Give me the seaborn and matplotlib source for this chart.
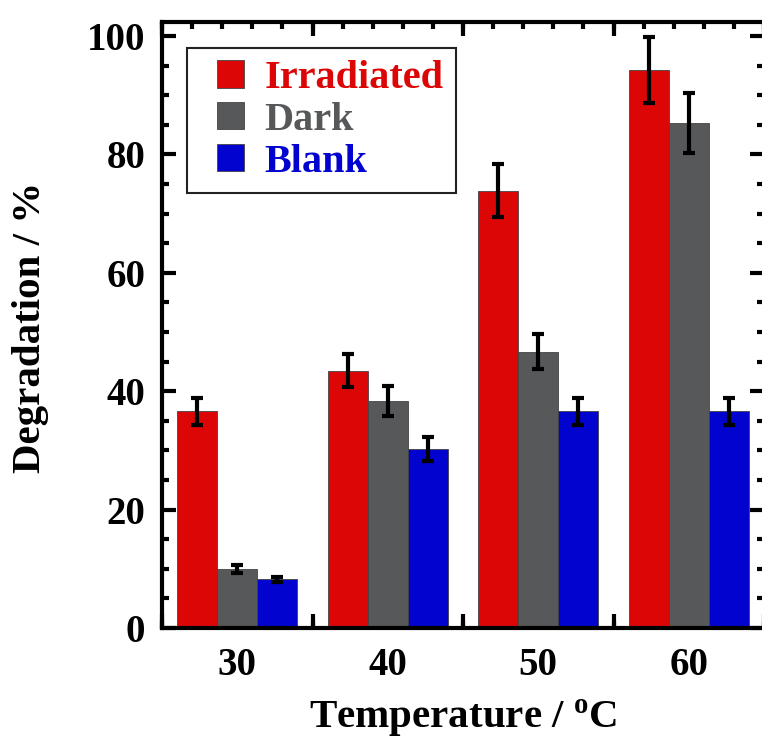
import matplotlib
matplotlib.use("Agg")
import matplotlib.pyplot as plt
import seaborn as sns
import pandas as pd
from matplotlib.patches import Patch, Rectangle
from matplotlib.legend_handler import HandlerPatch
from matplotlib.ticker import MultipleLocator, NullFormatter

temperatures = [30, 40, 50, 60]
series = ["Irradiated", "Dark", "Blank"]
irradiated = [36.6, 43.5, 73.9, 94.3]
irradiated_err = [2.3, 2.8, 4.5, 5.6]
dark = [10.0, 38.4, 46.7, 85.3]
dark_err = [0.7, 2.5, 2.9, 5.1]
blank = [8.2, 30.2, 36.6, 36.6]
blank_err = [0.5, 2.0, 2.3, 2.3]
colors = ["#DD0606", "#57585A", "#0303CF"]

values = {"Irradiated": irradiated, "Dark": dark, "Blank": blank}
errors = {"Irradiated": irradiated_err, "Dark": dark_err, "Blank": blank_err}
rows = []
for s in series:
    for t, v in zip(temperatures, values[s]):
        rows.append({"Temperature": t, "Series": s, "Degradation": v})
df = pd.DataFrame(rows)

sns.set_theme(style="ticks")
plt.rcParams["font.family"] = ["Liberation Serif", "DejaVu Serif"]
plt.rcParams["font.weight"] = "bold"
plt.rcParams["mathtext.fontset"] = "custom"
plt.rcParams["mathtext.rm"] = "Liberation Serif:bold"
plt.rcParams["mathtext.bf"] = "Liberation Serif:bold"
for k in ["text.color", "axes.labelcolor", "xtick.color", "ytick.color",
          "axes.edgecolor"]:
    plt.rcParams[k] = "black"

fig = plt.figure(figsize=(7.62, 7.38), dpi=100)
ax = fig.add_axes([162 / 762, 1 - 628 / 738, (764 - 162) / 762, (628 - 22.5) / 738])

sns.barplot(data=df, x="Temperature", y="Degradation", hue="Series",
            hue_order=series, palette=colors, native_scale=True,
            errorbar=None, width=0.8, saturation=1, legend=False,
            edgecolor="#444444", linewidth=0.6, ax=ax)

for s, cont in zip(series, ax.containers):
    for patch, v, e in zip(cont.patches, values[s], errors[s]):
        xc = patch.get_x() + patch.get_width() / 2
        ax.errorbar(xc, patch.get_height(), yerr=e, color="black",
                    elinewidth=3, capsize=4.2, capthick=3, zorder=5)

ax.set_xlim(25, 65)
ax.set_ylim(0, 102.3)

lw = 3
for sp in ax.spines.values():
    sp.set_linewidth(lw)
    sp.set_visible(True)
    sp.set_color("black")

ax.set_xticks(temperatures)
ax.set_xticklabels([str(t) for t in temperatures])
ax.xaxis.set_minor_locator(MultipleLocator(2, offset=1))
ax.tick_params(axis="x", which="major", length=0, pad=14, labelsize=28)
ax.tick_params(axis="x", which="minor", direction="in", length=5, width=lw,
               bottom=True, top=True)
ax.set_yticks([0, 20, 40, 60, 80, 100])
ax.yaxis.set_minor_locator(MultipleLocator(5))
ax.tick_params(axis="y", which="major", direction="in", length=10, width=lw,
               left=True, right=True, labelsize=28, pad=12)
ax.tick_params(axis="y", which="minor", direction="in", length=5, width=lw,
               left=True, right=True)
for lab in ax.get_xticklabels() + ax.get_yticklabels():
    lab.set_fontweight("bold")

for loc in ["bottom", "top"]:
    sec = ax.secondary_xaxis(loc)
    sec.set_xticks([25, 35, 45, 55, 65])
    sec.xaxis.set_major_formatter(NullFormatter())
    sec.tick_params(which="major", direction="in", length=10, width=lw)
    sec.tick_params(which="minor", length=0)
    sec.spines[loc].set_visible(False)

ax.set_xlabel("Temperature / $\\mathregular{^o}$C", fontsize=29.5,
              fontweight="bold", labelpad=10)
ax.set_ylabel("Degradation / %", fontsize=29.5, fontweight="bold")
ax.yaxis.set_label_coords(-0.188, 0.497)


def square_patch(legend, orig_handle, xdescent, ydescent, width, height, fontsize):
    return Rectangle((-xdescent + width - height, -ydescent), height, height)


handles = [Patch(facecolor=c, edgecolor="#444444", linewidth=0.6) for c in colors]
leg = ax.legend(handles, series, loc="upper left", bbox_to_anchor=(0.042, 0.958),
                borderaxespad=0, fancybox=False, edgecolor="#222222",
                framealpha=1, prop={"size": 29, "weight": "bold"},
                handlelength=1.12, handleheight=0.67, handletextpad=0.5,
                labelspacing=0.12, borderpad=0.3,
                handler_map={Patch: HandlerPatch(patch_func=square_patch)})
leg.get_frame().set_linewidth(1.5)
for txt, c in zip(leg.get_texts(), colors):
    txt.set_color(c)

fig.savefig("out.png", dpi=100)
